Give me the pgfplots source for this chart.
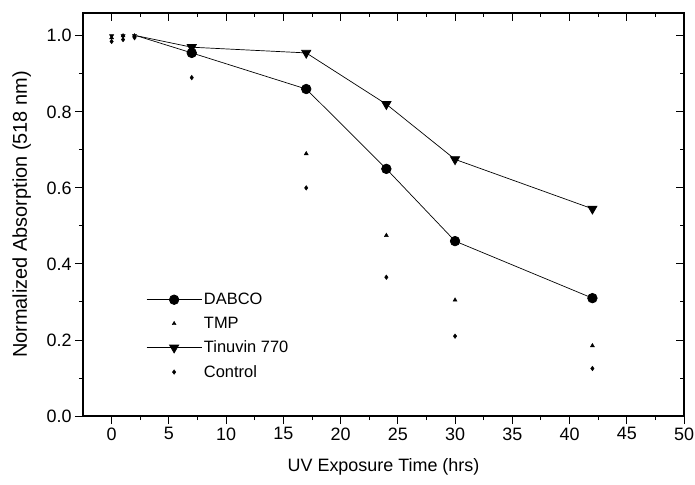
\documentclass[border=0pt]{standalone}
\usepackage{fontspec}
\setmainfont{Liberation Sans}
\usepackage{pgfplots}
\pgfplotsset{compat=1.18}

\pgfplotsset{
  frame/.style={
    scale only axis, width=601bp, height=403bp,
    xmin=-2.5, xmax=50, ymin=0, ymax=1.06,
    xtick={0,5,...,50}, ytick={0,0.2,...,1.0},
    minor x tick num=1, minor y tick num=1,
    major tick length=8bp, minor tick length=4bp,
    axis line style={line width=1.1pt},
    every tick/.style={black, line width=0.9pt},
  }
}

\begin{document}
\begin{tikzpicture}
\begin{axis}[
  frame,
  xtick pos=lower, ytick pos=left, tick align=outside,
  /pgf/number format/assume math mode=true,
  tick label style={font=\fontsize{18}{20}\selectfont},
  yticklabel style={/pgf/number format/.cd, fixed, fixed zerofill, precision=1},
  xlabel={UV Exposure Time (hrs)},
  ylabel={Normalized Absorption (518 nm)},
  xlabel style={font=\fontsize{18}{21}\selectfont, yshift=-13bp, inner ysep=2bp},
  ylabel style={font=\fontsize{20}{23}\selectfont, inner ysep=6bp, yshift=6bp},
  legend style={draw=none, fill=none, at={(rel axis cs:0.1,0.315)}, anchor=north west,
    font=\fontsize{16.5}{19}\selectfont, row sep=7bp, cells={anchor=west}},
  legend image code/.code={\draw[mark repeat=2, mark phase=2] plot coordinates {(0cm,0cm) (0.97cm,0cm) (1.94cm,0cm)};},
]
% lines leaving the t = 0..2 h cluster
\addplot[black, line width=0.7pt, forget plot] coordinates {(2.2,1.0) (7,0.955)};
\addplot[black, line width=0.7pt, forget plot] coordinates {(2.2,1.0) (7,0.97)};

\addplot[black, line width=0.7pt, mark=*, mark size=4.8bp, mark options={solid}]
  coordinates {(7,0.955) (17,0.86) (24,0.65) (30,0.46) (42,0.31)};
\addlegendentry{DABCO}
\addplot[black, only marks, mark=triangle*, mark size=2.3bp]
  coordinates {(0,0.995) (1,1.0) (2,1.0) (7,0.95) (17,0.69) (24,0.475) (30,0.305) (42,0.185)};
\addlegendentry{TMP}
\addplot[black, line width=0.7pt, mark=triangle*, mark size=5.3bp, mark options={rotate=180, solid}]
  coordinates {(7,0.97) (17,0.955) (24,0.82) (30,0.675) (42,0.545)};
\addlegendentry{Tinuvin 770}
\addplot[black, only marks, mark=diamond*, mark size=2.3bp]
  coordinates {(0,0.985) (1,0.99) (2,0.995) (7,0.89) (17,0.60) (24,0.365) (30,0.21) (42,0.125)};
\addlegendentry{Control}
\addplot[black, only marks, mark=triangle*, mark size=2.5bp, mark options={rotate=180}, forget plot]
  coordinates {(0,1.0) (1,1.0) (2,1.0)};
\end{axis}
\begin{axis}[
  frame,
  xtick pos=upper, ytick pos=right, tick align=inside,
  xticklabels={}, yticklabels={},
]
\end{axis}
% page margins as in the reference
\pgfresetboundingbox
\path (current axis.south west) +(-83bp,-69bp) (current axis.north east) +(11bp,13bp);
\end{tikzpicture}
\end{document}
